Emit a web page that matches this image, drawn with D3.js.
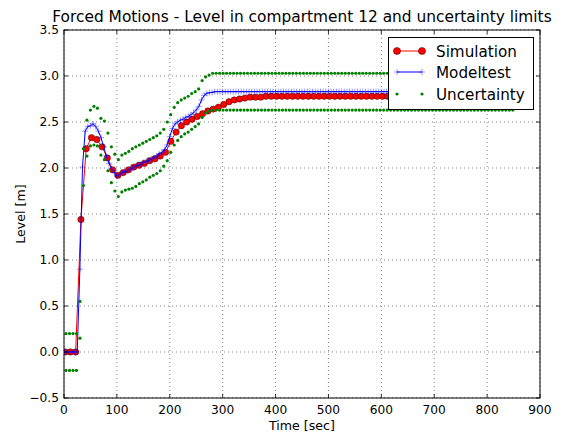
<!DOCTYPE html>
<meta charset="utf-8">
<script src="https://d3js.org/d3.v7.min.js"></script>
<style>
  body { margin: 0; background: #fff; }
  text { font-family: "DejaVu Sans", sans-serif; fill: #000; }
</style>
<body>
<script>
// sample times: simulation every 10 s, modeltest every 5 s, uncertainty every 6.6 s
var simStart = 2, simStep = 10,
    mtStep = 5,
    uncStart = 3.8, uncStep = 6.6;

var simulation = [
  0, 0, 0, 1.44, 2.21, 2.33, 2.31, 2.23, 2.11, 1.98,
  1.92, 1.95, 1.98, 2.01, 2.03, 2.05, 2.08, 2.10, 2.13, 2.17,
  2.29, 2.39, 2.46, 2.50, 2.53, 2.56, 2.59, 2.62, 2.64, 2.66,
  2.69, 2.72, 2.74, 2.75, 2.76, 2.77, 2.77, 2.77, 2.78, 2.78,
  2.78, 2.78, 2.78, 2.78, 2.78, 2.78, 2.78, 2.78, 2.78, 2.78,
  2.78, 2.78, 2.78, 2.78, 2.78, 2.78, 2.78, 2.78, 2.78, 2.78,
  2.78, 2.78, 2.78, 2.78, 2.78, 2.78, 2.78, 2.78, 2.78, 2.78,
  2.78, 2.78, 2.78, 2.78, 2.78, 2.78, 2.78, 2.78, 2.78, 2.78,
  2.78, 2.78, 2.78, 2.78, 2.78, 2.78
];

var modeltest = [
  0, 0, 0, 0, 0, 0, 0.90, 2.01, 2.40, 2.45,
  2.46, 2.48, 2.45, 2.40, 2.33, 2.23, 2.13, 2.05, 1.99, 1.95,
  1.91, 1.93, 1.95, 1.96, 1.97, 1.99, 2.00, 2.02, 2.03, 2.04,
  2.06, 2.07, 2.08, 2.10, 2.11, 2.13, 2.15, 2.17, 2.20, 2.25,
  2.34, 2.43, 2.48, 2.50, 2.52, 2.53, 2.55, 2.56, 2.58, 2.60,
  2.63, 2.67, 2.74, 2.79, 2.81, 2.82, 2.82, 2.83, 2.83, 2.83,
  2.83, 2.83, 2.83, 2.83, 2.83, 2.83, 2.83, 2.83, 2.83, 2.83,
  2.83, 2.83, 2.83, 2.83, 2.83, 2.83, 2.83, 2.83, 2.83, 2.83,
  2.83, 2.83, 2.83, 2.83, 2.83, 2.83, 2.83, 2.83, 2.83, 2.83,
  2.83, 2.83, 2.83, 2.83, 2.83, 2.83, 2.83, 2.83, 2.83, 2.83,
  2.83, 2.83, 2.83, 2.83, 2.83, 2.83, 2.83, 2.83, 2.83, 2.83,
  2.83, 2.83, 2.83, 2.83, 2.83, 2.83, 2.83, 2.83, 2.83, 2.83,
  2.83, 2.83, 2.83, 2.83, 2.83, 2.83, 2.83, 2.83, 2.83, 2.83,
  2.83, 2.83, 2.83, 2.83, 2.83, 2.83, 2.83, 2.83, 2.83, 2.83,
  2.83, 2.83, 2.83, 2.83, 2.83, 2.83, 2.83, 2.83, 2.83, 2.83,
  2.83, 2.83, 2.83, 2.83, 2.83, 2.83, 2.83, 2.83, 2.83, 2.83,
  2.83, 2.83, 2.83, 2.83, 2.83, 2.83, 2.83, 2.83, 2.83, 2.83,
  2.83
];

var uncUpper = [
  0.20, 0.20, 0.20, 0.20, 0.55, 2.21, 2.52, 2.63, 2.67, 2.65,
  2.54, 2.51, 2.38, 2.23, 2.15, 2.09, 2.14, 2.16, 2.18, 2.21,
  2.23, 2.25, 2.27, 2.29, 2.31, 2.33, 2.35, 2.38, 2.42, 2.50,
  2.58, 2.66, 2.71, 2.74, 2.76, 2.78, 2.81, 2.83, 2.86, 2.95,
  2.99, 3.01, 3.03, 3.03, 3.03, 3.03, 3.03, 3.03, 3.03, 3.03,
  3.03, 3.03, 3.03, 3.03, 3.03, 3.03, 3.03, 3.03, 3.03, 3.03,
  3.03, 3.03, 3.03, 3.03, 3.03, 3.03, 3.03, 3.03, 3.03, 3.03,
  3.03, 3.03, 3.03, 3.03, 3.03, 3.03, 3.03, 3.03, 3.03, 3.03,
  3.03, 3.03, 3.03, 3.03, 3.03, 3.03, 3.03, 3.03, 3.03, 3.03,
  3.03, 3.03, 3.03, 3.03, 3.03, 3.03, 3.03, 3.03, 3.03, 3.03,
  3.03, 3.03, 3.03, 3.03, 3.03, 3.03, 3.03, 3.03, 3.03, 3.03,
  3.03, 3.03, 3.03, 3.03, 3.03, 3.03, 3.03, 3.03, 3.03, 3.03,
  3.03, 3.03, 3.03, 3.03, 3.03, 3.03, 3.03, 3.03, 3.03
];

var uncLower = [
  -0.20, -0.20, -0.20, -0.20, 0.15, 1.81, 2.13, 2.24, 2.25, 2.24,
  2.14, 2.09, 1.97, 1.84, 1.75, 1.69, 1.74, 1.76, 1.77, 1.78,
  1.80, 1.83, 1.85, 1.87, 1.90, 1.92, 1.94, 1.97, 2.02, 2.08,
  2.17, 2.25, 2.30, 2.34, 2.37, 2.39, 2.42, 2.45, 2.48, 2.55,
  2.60, 2.62, 2.63, 2.63, 2.63, 2.63, 2.63, 2.63, 2.63, 2.63,
  2.63, 2.63, 2.63, 2.63, 2.63, 2.63, 2.63, 2.63, 2.63, 2.63,
  2.63, 2.63, 2.63, 2.63, 2.63, 2.63, 2.63, 2.63, 2.63, 2.63,
  2.63, 2.63, 2.63, 2.63, 2.63, 2.63, 2.63, 2.63, 2.63, 2.63,
  2.63, 2.63, 2.63, 2.63, 2.63, 2.63, 2.63, 2.63, 2.63, 2.63,
  2.63, 2.63, 2.63, 2.63, 2.63, 2.63, 2.63, 2.63, 2.63, 2.63,
  2.63, 2.63, 2.63, 2.63, 2.63, 2.63, 2.63, 2.63, 2.63, 2.63,
  2.63, 2.63, 2.63, 2.63, 2.63, 2.63, 2.63, 2.63, 2.63, 2.63,
  2.63, 2.63, 2.63, 2.63, 2.63, 2.63, 2.63, 2.63, 2.63
];

var xTicks = [0, 100, 200, 300, 400, 500, 600, 700, 800, 900],
    yTicks = [-0.5, 0, 0.5, 1, 1.5, 2, 2.5, 3, 3.5],
    seriesNames = ["Simulation", "Modeltest", "Uncertainty"];

var w = 562, h = 432,
    pl = 64, pr = 540, pt = 30, pb = 398;

var x = d3.scaleLinear().domain([0, 900]).range([pl, pr]),
    y = d3.scaleLinear().domain([-0.5, 3.5]).range([pb, pt]);

var simData = simulation.map(function(v, i) { return [simStart + i * simStep, v]; }),
    mtData = modeltest.map(function(v, i) { return [i * mtStep, v]; }),
    uncData = uncUpper.map(function(v, i) { return [uncStart + i * uncStep, v]; })
      .concat(uncLower.map(function(v, i) { return [uncStart + i * uncStep, v]; }));

var svg = d3.select("body").append("svg")
    .attr("width", w)
    .attr("height", h);

svg.append("rect").attr("width", w).attr("height", h).attr("fill", "#fff");

svg.append("defs").append("clipPath").attr("id", "plot")
  .append("rect").attr("x", pl).attr("y", pt).attr("width", pr - pl).attr("height", pb - pt);

// grid
var grid = svg.append("g")
    .attr("stroke", "#000")
    .attr("stroke-width", 0.5)
    .attr("stroke-dasharray", "1,3");
grid.selectAll(".gx").data(xTicks).enter().append("line")
    .attr("x1", function(d) { return x(d); }).attr("x2", function(d) { return x(d); })
    .attr("y1", pt).attr("y2", pb);
grid.selectAll(".gy").data(yTicks).enter().append("line")
    .attr("y1", function(d) { return y(d); }).attr("y2", function(d) { return y(d); })
    .attr("x1", pl).attr("x2", pr);

var plot = svg.append("g").attr("clip-path", "url(#plot)");

var line = d3.line()
    .x(function(d) { return x(d[0]); })
    .y(function(d) { return y(d[1]); });

// simulation
plot.append("path").datum(simData)
    .attr("d", line).attr("fill", "none").attr("stroke", "#ff0000").attr("stroke-width", 1);
plot.selectAll(".sim").data(simData).enter().append("circle")
    .attr("cx", function(d) { return x(d[0]); })
    .attr("cy", function(d) { return y(d[1]); })
    .attr("r", 3.2)
    .attr("fill", "#ff0000")
    .attr("stroke", "#000")
    .attr("stroke-width", 0.4);

// modeltest
plot.append("path").datum(mtData)
    .attr("d", line).attr("fill", "none").attr("stroke", "#0000ff").attr("stroke-width", 1);
var plus = "M-3,0H3M0,-3V3";
plot.selectAll(".mt").data(mtData).enter().append("path")
    .attr("d", plus)
    .attr("transform", function(d) { return "translate(" + x(d[0]) + "," + y(d[1]) + ")"; })
    .attr("stroke", "#0000ff")
    .attr("stroke-opacity", 0.6)
    .attr("stroke-width", 0.7);

// uncertainty
plot.selectAll(".unc").data(uncData).enter().append("circle")
    .attr("cx", function(d) { return x(d[0]); })
    .attr("cy", function(d) { return y(d[1]); })
    .attr("r", 1.6)
    .attr("fill", "#008000");

// frame and inward ticks
svg.append("rect")
    .attr("x", pl).attr("y", pt).attr("width", pr - pl).attr("height", pb - pt)
    .attr("fill", "none").attr("stroke", "#000").attr("stroke-width", 1);

var ticks = svg.append("g").attr("stroke", "#000").attr("stroke-width", 0.8);
xTicks.forEach(function(d) {
  ticks.append("line").attr("x1", x(d)).attr("x2", x(d)).attr("y1", pb).attr("y2", pb - 4);
  ticks.append("line").attr("x1", x(d)).attr("x2", x(d)).attr("y1", pt).attr("y2", pt + 4);
});
yTicks.forEach(function(d) {
  ticks.append("line").attr("y1", y(d)).attr("y2", y(d)).attr("x1", pl).attr("x2", pl + 4);
  ticks.append("line").attr("y1", y(d)).attr("y2", y(d)).attr("x1", pr).attr("x2", pr - 4);
});

svg.selectAll(".xl").data(xTicks).enter().append("text")
    .attr("x", function(d) { return x(d); })
    .attr("y", 414)
    .attr("text-anchor", "middle")
    .style("font-size", "12.2px")
    .text(function(d) { return d; });

svg.selectAll(".yl").data(yTicks).enter().append("text")
    .attr("x", 59)
    .attr("y", function(d) { return y(d) + 4.3; })
    .attr("text-anchor", "end")
    .style("font-size", "12.2px")
    .text(d3.format(".1f"));

svg.append("text")
    .attr("x", (pl + pr) / 2).attr("y", 430)
    .attr("text-anchor", "middle")
    .style("font-size", "12.6px")
    .text("Time [sec]");

svg.append("text")
    .attr("transform", "translate(25," + (pt + pb) / 2 + ") rotate(-90)")
    .attr("text-anchor", "middle")
    .style("font-size", "12.6px")
    .text("Level [m]");

svg.append("text")
    .attr("x", 302).attr("y", 22)
    .attr("text-anchor", "middle")
    .style("font-size", "15.4px")
    .text("Forced Motions - Level in compartment 12 and uncertainty limits");

// legend
var lg = svg.append("g");
lg.append("rect")
    .attr("x", 388.5).attr("y", 37.5).attr("width", 145).attr("height", 72)
    .attr("fill", "#fff").attr("stroke", "#000").attr("stroke-width", 1);

var rows = [51, 72, 94], lx1 = 397, lx2 = 422;

lg.append("line").attr("x1", lx1).attr("x2", lx2).attr("y1", rows[0]).attr("y2", rows[0])
    .attr("stroke", "#ff0000");
[lx1, lx2].forEach(function(px) {
  lg.append("circle").attr("cx", px).attr("cy", rows[0]).attr("r", 3.6)
      .attr("fill", "#ff0000").attr("stroke", "#000").attr("stroke-width", 0.4);
});

lg.append("line").attr("x1", lx1).attr("x2", lx2).attr("y1", rows[1]).attr("y2", rows[1])
    .attr("stroke", "#0000ff");
[lx1, lx2].forEach(function(px) {
  lg.append("path").attr("d", plus)
      .attr("transform", "translate(" + px + "," + rows[1] + ")")
      .attr("stroke", "#0000ff").attr("stroke-opacity", 0.6).attr("stroke-width", 0.7);
});

[lx1, lx2].forEach(function(px) {
  lg.append("circle").attr("cx", px).attr("cy", rows[2]).attr("r", 1.6).attr("fill", "#008000");
});

lg.selectAll(".lt").data(seriesNames).enter().append("text")
    .attr("x", 436)
    .attr("y", function(d, i) { return rows[i] + 5.5; })
    .style("font-size", "15.2px")
    .text(function(d) { return d; });
</script>
</body>
